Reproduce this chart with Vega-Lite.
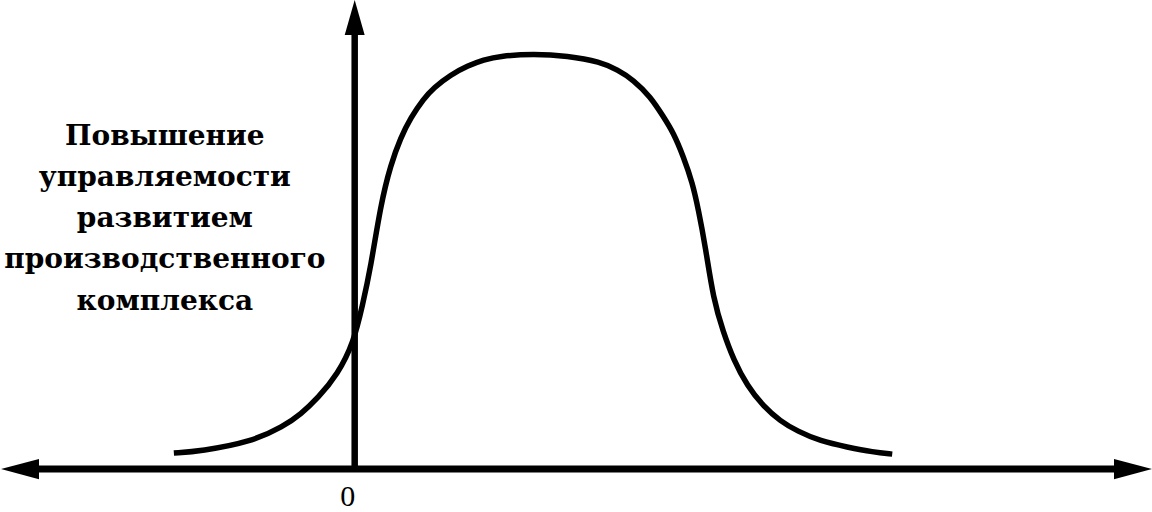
{
  "$schema": "https://vega.github.io/schema/vega-lite/v6.json",
  "width": 1152,
  "height": 512,
  "padding": 0,
  "autosize": {"type": "fit", "contains": "padding"},
  "background": "white",
  "config": {"view": {"stroke": null}},
  "encoding": {
    "x": {"field": "x", "type": "quantitative", "scale": {"domain": [-3.54, 7.98], "nice": false, "zero": false}, "axis": null},
    "y": {"field": "y", "type": "quantitative", "scale": {"domain": [-0.42, 4.70], "nice": false, "zero": false}, "axis": null}
  },
  "layer": [
    {
      "data": {"values": [
        {"x": -1.81, "y": 0.16}, {"x": -1.54, "y": 0.18}, {"x": -1.04, "y": 0.27},
        {"x": -0.71, "y": 0.43}, {"x": -0.54, "y": 0.55}, {"x": -0.37, "y": 0.71},
        {"x": -0.17, "y": 0.95}, {"x": -0.01, "y": 1.27}, {"x": 0.08, "y": 1.65},
        {"x": 0.16, "y": 2.02}, {"x": 0.26, "y": 2.65}, {"x": 0.36, "y": 3.05},
        {"x": 0.46, "y": 3.32}, {"x": 0.56, "y": 3.52}, {"x": 0.69, "y": 3.71},
        {"x": 0.79, "y": 3.82}, {"x": 0.96, "y": 3.95}, {"x": 1.13, "y": 4.04},
        {"x": 1.29, "y": 4.10}, {"x": 1.46, "y": 4.14}, {"x": 1.79, "y": 4.16},
        {"x": 2.13, "y": 4.14}, {"x": 2.46, "y": 4.08}, {"x": 2.63, "y": 4.00},
        {"x": 2.79, "y": 3.90}, {"x": 2.96, "y": 3.73}, {"x": 3.09, "y": 3.53},
        {"x": 3.19, "y": 3.37}, {"x": 3.29, "y": 3.13}, {"x": 3.38, "y": 2.87},
        {"x": 3.44, "y": 2.60}, {"x": 3.51, "y": 2.23}, {"x": 3.59, "y": 1.70},
        {"x": 3.69, "y": 1.37}, {"x": 3.79, "y": 1.10}, {"x": 3.93, "y": 0.83},
        {"x": 4.09, "y": 0.63}, {"x": 4.26, "y": 0.48}, {"x": 4.43, "y": 0.38},
        {"x": 4.66, "y": 0.28}, {"x": 4.93, "y": 0.22}, {"x": 5.19, "y": 0.17},
        {"x": 5.38, "y": 0.15}
      ]},
      "mark": {"type": "line", "color": "black", "strokeWidth": 5.5, "interpolate": "basis", "strokeCap": "butt"}
    },
    {
      "data": {"values": [{"x": -3.3, "x2": 7.7, "y": 0}]},
      "mark": {"type": "rule", "color": "black", "strokeWidth": 7},
      "encoding": {"x2": {"field": "x2"}}
    },
    {
      "data": {"values": [{"x": 0, "y": 0, "y2": 4.45}]},
      "mark": {"type": "rule", "color": "black", "strokeWidth": 6.5},
      "encoding": {"y2": {"field": "y2"}}
    },
    {
      "data": {"values": [{"x": 7.79, "y": 0}]},
      "mark": {"type": "point", "filled": true, "color": "black", "opacity": 1, "size": 1444, "shape": "M1,0L-1,-0.53L-1,0.53Z"}
    },
    {
      "data": {"values": [{"x": -3.35, "y": 0}]},
      "mark": {"type": "point", "filled": true, "color": "black", "opacity": 1, "size": 1444, "shape": "M-1,0L1,-0.53L1,0.53Z"}
    },
    {
      "data": {"values": [{"x": 0, "y": 4.525}]},
      "mark": {"type": "point", "filled": true, "color": "black", "opacity": 1, "size": 1225, "shape": "M0,-1L0.57,1L-0.57,1Z"}
    },
    {
      "data": {"values": [{"x": -1.90, "y": 3.25, "label": "Повышение\nуправляемости\nразвитием\nпроизводственного\nкомплекса"}]},
      "mark": {"type": "text", "font": "DejaVu Serif", "fontWeight": "bold", "fontSize": 28, "color": "black", "align": "center", "baseline": "alphabetic", "lineBreak": "\n", "lineHeight": 41.25},
      "encoding": {"text": {"field": "label"}}
    },
    {
      "data": {"values": [{"x": -0.07, "y": -0.37, "label": "0"}]},
      "mark": {"type": "text", "font": "Liberation Serif", "fontSize": 30, "color": "black", "align": "center", "baseline": "alphabetic"},
      "encoding": {"text": {"field": "label"}}
    }
  ]
}
